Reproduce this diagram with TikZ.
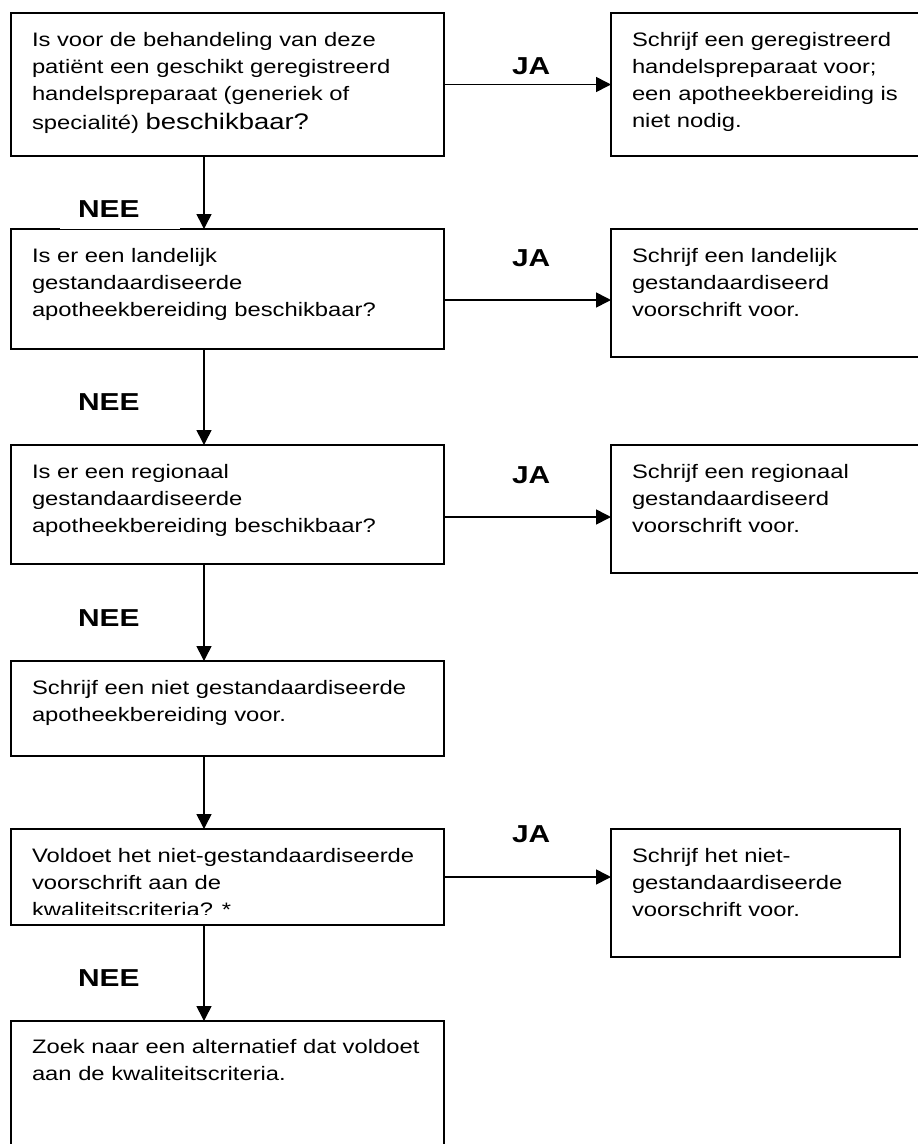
\documentclass[tikz,border=0pt]{standalone}
\usepackage{fontspec}
\setmainfont{Liberation Sans}[FakeStretch=1.22]
\usetikzlibrary{arrows.meta}
\tikzset{
  box/.style={draw, line width=2.2pt, inner sep=0pt, outer sep=0pt},
  openbox/.style={draw=none, inner sep=0pt, outer sep=0pt},
  side/.style={line width=2.2pt},
  txt/.style={inner sep=0pt, outer sep=0pt, anchor=base west, font=\fontsize{19.5}{27.3}\selectfont},
  lbl/.style={inner sep=0pt, outer sep=0pt, anchor=base west, font=\fontsize{24.5}{28}\selectfont\bfseries},
  arr/.style={line width=1.6pt, -{Triangle[length=15pt,width=15pt]}},
}
\begin{document}
\begin{tikzpicture}[x=1pt,y=-1pt]
\useasboundingbox (0,0) rectangle (918,1144);
\coordinate (ax) at (204,0);

% left column
\node[box, minimum width=433pt, minimum height=143pt] (b1) at (227.5,84.5) {};
\node[box, minimum width=433pt, minimum height=120pt] (b2) at (227.5,289) {};
\node[box, minimum width=433pt, minimum height=119pt] (b3) at (227.5,504.5) {};
\node[box, minimum width=433pt, minimum height=95pt] (b4) at (227.5,708.5) {};
\node[box, minimum width=433pt, minimum height=96pt] (b5) at (227.5,877) {};
\node[openbox, minimum width=433pt, minimum height=123pt] (b6) at (227.5,1082.5) {};
\draw[side] (b6.south west) -- (b6.north west) -- (b6.north east) -- (b6.south east);

% right column
\node[openbox, minimum width=307pt, minimum height=143pt] (r1) at (764.5,84.5) {};
\draw[side] (r1.north east) -- (r1.north west) -- (r1.south west) -- (r1.south east);
\node[openbox, minimum width=307pt, minimum height=128pt] (r2) at (764.5,293) {};
\draw[side] (r2.north east) -- (r2.north west) -- (r2.south west) -- (r2.south east);
\node[openbox, minimum width=307pt, minimum height=128pt] (r3) at (764.5,509) {};
\draw[side] (r3.north east) -- (r3.north west) -- (r3.south west) -- (r3.south east);
\node[box, minimum width=289pt, minimum height=128pt] (r4) at (755.5,893) {};

% texts
\node[txt] (t1) at ([shift={(21,33)}]b1.north west) {\parbox[t]{405pt}{\raggedright Is voor de behandeling van deze\\ patiënt een geschikt geregistreerd\\ handelspreparaat (generiek of\\[1.5pt] specialité) {\fontsize{22.5}{27.3}\selectfont beschikbaar?}}};
\node[txt] (t2) at ([shift={(21,33)}]b2.north west) {\parbox[t]{405pt}{\raggedright Is er een landelijk\\ gestandaardiseerde\\ apotheekbereiding beschikbaar?}};
\node[txt] (t3) at ([shift={(21,33)}]b3.north west) {\parbox[t]{405pt}{\raggedright Is er een regionaal\\ gestandaardiseerde\\ apotheekbereiding beschikbaar?}};
\node[txt] (t4) at ([shift={(21,33)}]b4.north west) {\parbox[t]{405pt}{\raggedright Schrijf een niet gestandaardiseerde\\ apotheekbereiding voor.}};
\begin{scope}
  \clip (b5.north west) rectangle ([yshift=11pt]b5.south east);
  \node[txt] (t5) at ([shift={(21,33)}]b5.north west) {\parbox[t]{405pt}{\raggedright Voldoet het niet-gestandaardiseerde\\ voorschrift aan de\\ kwaliteitscriteria? *}};
\end{scope}
\node[txt] (t6) at ([shift={(21,32)}]b6.north west) {\parbox[t]{405pt}{\raggedright Zoek naar een alternatief dat voldoet\\ aan de kwaliteitscriteria.}};

\node[txt] (s1) at ([shift={(21,33)}]r1.north west) {\parbox[t]{280pt}{\raggedright Schrijf een geregistreerd\\ handelspreparaat voor;\\ een apotheekbereiding is\\ niet nodig.}};
\node[txt] (s2) at ([shift={(21,33)}]r2.north west) {\parbox[t]{280pt}{\raggedright Schrijf een landelijk\\ gestandaardiseerd\\ voorschrift voor.}};
\node[txt] (s3) at ([shift={(21,33)}]r3.north west) {\parbox[t]{280pt}{\raggedright Schrijf een regionaal\\ gestandaardiseerd\\ voorschrift voor.}};
\node[txt] (s4) at ([shift={(21,33)}]r4.north west) {\parbox[t]{260pt}{\raggedright Schrijf het niet-\\ gestandaardiseerde\\ voorschrift voor.}};

% vertical connectors
\draw[arr] (b1.south -| ax) -- (b2.north -| ax);
\draw[arr] (b2.south -| ax) -- (b3.north -| ax);
\draw[arr] (b3.south -| ax) -- (b4.north -| ax);
\draw[arr] (b4.south -| ax) -- (b5.north -| ax);
\draw[arr] (b5.south -| ax) -- (b6.north -| ax);

% horizontal connectors
\path ([yshift=0pt]b1.east) coordinate (j1);
\path ([yshift=-11pt]b2.east) coordinate (j2);
\path ([yshift=-12.5pt]b3.east) coordinate (j3);
\path (b5.east) coordinate (j4);
\draw[arr] (j1) -- (j1 -| r1.west);
\draw[arr] (j2) -- (j2 -| r2.west);
\draw[arr] (j3) -- (j3 -| r3.west);
\draw[arr] (j4) -- (j4 -| r4.west);

% labels
\node[lbl, fill=white, text depth=11.5pt] (nee1) at (60,217.5) {\hspace*{18pt}NEE\hspace*{41pt}};
\node[lbl] (nee2) at (78,410) {NEE};
\node[lbl] (nee3) at (78,626) {NEE};
\node[lbl] (nee4) at (78,986) {NEE};
\node[lbl] (ja1) at (512,74) {JA};
\node[lbl] (ja2) at (512,266) {JA};
\node[lbl] (ja3) at (512,483) {JA};
\node[lbl] (ja4) at (512,842) {JA};
\end{tikzpicture}
\end{document}
